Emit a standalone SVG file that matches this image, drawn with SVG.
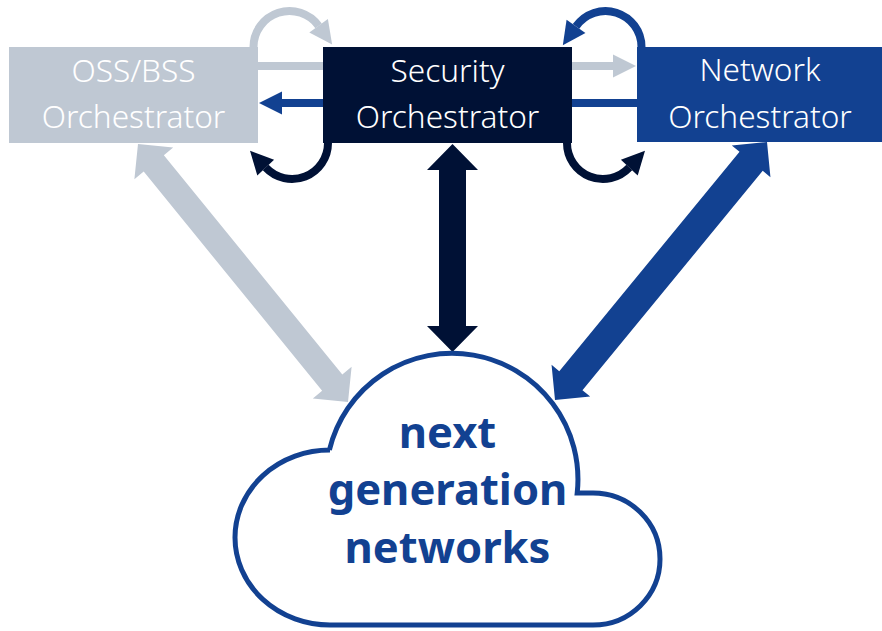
<svg xmlns="http://www.w3.org/2000/svg" width="882" height="631" viewBox="0 0 882 631">
  <style>
    .box-label { font-family: "Noto Sans", "Open Sans", "DejaVu Sans", sans-serif; font-size: 31.6px; font-weight: 300; fill: #ffffff; text-anchor: middle; }
    .cloud-label { font-family: "Noto Sans", "Open Sans", "DejaVu Sans", sans-serif; font-size: 43.5px; font-weight: 700; fill: #124191; text-anchor: middle; }
    .link { fill: none; stroke-width: 8; stroke-linecap: butt; }
    .gray { stroke: #BFC8D3; }
    .blue { stroke: #124191; }
    .dark { stroke: #001135; }
  </style>
  <defs>
    <marker id="head-gray" markerUnits="userSpaceOnUse" markerWidth="24" markerHeight="24" refX="0" refY="11.5" orient="auto" overflow="visible">
      <path d="M0,0 L23,11.5 L0,23 Z" fill="#BFC8D3"/>
    </marker>
    <marker id="head-blue" markerUnits="userSpaceOnUse" markerWidth="24" markerHeight="24" refX="0" refY="11.5" orient="auto" overflow="visible">
      <path d="M0,0 L23,11.5 L0,23 Z" fill="#124191"/>
    </marker>
    <marker id="head-dark" markerUnits="userSpaceOnUse" markerWidth="24" markerHeight="24" refX="0" refY="11.5" orient="auto" overflow="visible">
      <path d="M0,0 L23,11.5 L0,23 Z" fill="#001135"/>
    </marker>
  </defs>

  <g id="connectors">
    <!-- straight links between orchestrators -->
    <path class="link gray" d="M257,66 L613,66" marker-end="url(#head-gray)"/>
    <path class="link blue" d="M637,103 L282,103" marker-end="url(#head-blue)"/>
    <!-- loops around the security orchestrator -->
    <path class="link gray" d="M253.5,47 A36,36 0 0 1 318.6,25.8" marker-end="url(#head-gray)"/>
    <path class="link blue" d="M641.5,47 A36,36 0 0 0 576,26.4" marker-end="url(#head-blue)"/>
    <path class="link dark" d="M328,143 A36,36 0 0 1 265.7,167.6" marker-end="url(#head-dark)"/>
    <path class="link dark" d="M567,143 A36,36 0 0 0 629.3,167.6" marker-end="url(#head-dark)"/>
    <!-- double-headed links to the network cloud -->
    <polygon fill="#BFC8D3" points="138,144 173.17,147.61 163.86,155.18 342.30,374.40 351.61,366.83 348,402 312.83,398.39 322.14,390.82 143.70,171.60 134.39,179.17"/>
    <polygon fill="#001135" points="452.5,144 478,170 466,170 466,326 478,326 452.5,352 427,326 439,326 439,170 427,170"/>
    <polygon fill="#124191" points="767,142 770.45,177.19 762.72,170.84 582.46,390.20 590.19,396.55 555,400 551.55,364.81 559.28,371.16 739.54,151.80 731.81,145.45"/>
  </g>

  <g id="oss-bss">
    <rect x="9" y="47" width="249" height="96" fill="#BFC8D3"/>
    <text class="box-label" x="133.5" y="82">OSS/BSS</text>
    <text class="box-label" x="133.5" y="128">Orchestrator</text>
  </g>

  <g id="security">
    <rect x="323" y="47" width="249" height="96" fill="#001135"/>
    <text class="box-label" x="447.5" y="82">Security</text>
    <text class="box-label" x="447.5" y="128">Orchestrator</text>
  </g>

  <g id="network">
    <rect x="637" y="47" width="245" height="95" fill="#124191"/>
    <text class="box-label" x="760" y="81">Network</text>
    <text class="box-label" x="760" y="128">Orchestrator</text>
  </g>

  <g id="cloud">
    <path d="M329.4,450 A126,126 0 0 1 577.2,493 L593,493 A67,66 0 0 1 593,625 L330,625 A95,87.5 0 0 1 330,450 Z" fill="#ffffff" stroke="#124191" stroke-width="5" stroke-linejoin="miter"/>
    <text class="cloud-label" x="447.5" y="448">next</text>
    <text class="cloud-label" x="447.5" y="505">generation</text>
    <text class="cloud-label" x="447.5" y="563">networks</text>
  </g>
</svg>
